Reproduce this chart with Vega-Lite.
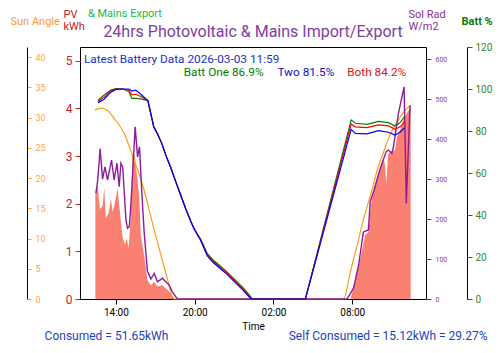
{
  "$schema": "https://vega.github.io/schema/vega-lite/v6.json",
  "width": 346,
  "height": 252,
  "autosize": "none",
  "padding": {"left": 80, "top": 47, "right": 74, "bottom": 54},
  "config": {
    "font": "Roboto",
    "view": {"stroke": "black", "strokeWidth": 1},
    "axis": {"grid": false}
  },
  "title": {
    "text": "24hrs Photovoltaic & Mains Import/Export",
    "anchor": "middle",
    "frame": "group",
    "fontSize": 16,
    "fontWeight": "normal",
    "color": "#7d3f9e",
    "offset": 0,
    "baseline": "alphabetic",
    "dy": 45
  },
  "datasets": {
    "pv": [
      {"t": "2026-03-02T12:26", "v": 2.25},
      {"t": "2026-03-02T12:37", "v": 2.35},
      {"t": "2026-03-02T12:47", "v": 1.89},
      {"t": "2026-03-02T12:59", "v": 1.95},
      {"t": "2026-03-02T13:07", "v": 2.33},
      {"t": "2026-03-02T13:14", "v": 1.70},
      {"t": "2026-03-02T13:27", "v": 1.80},
      {"t": "2026-03-02T13:37", "v": 2.11},
      {"t": "2026-03-02T13:45", "v": 1.83},
      {"t": "2026-03-02T13:57", "v": 2.05},
      {"t": "2026-03-02T14:08", "v": 2.33},
      {"t": "2026-03-02T14:15", "v": 1.97},
      {"t": "2026-03-02T14:31", "v": 1.28},
      {"t": "2026-03-02T14:42", "v": 1.14},
      {"t": "2026-03-02T14:49", "v": 1.28},
      {"t": "2026-03-02T14:58", "v": 1.07},
      {"t": "2026-03-02T15:08", "v": 1.70},
      {"t": "2026-03-02T15:16", "v": 3.05},
      {"t": "2026-03-02T15:27", "v": 3.0},
      {"t": "2026-03-02T15:36", "v": 2.6},
      {"t": "2026-03-02T15:46", "v": 2.2},
      {"t": "2026-03-02T15:54", "v": 1.34},
      {"t": "2026-03-02T16:09", "v": 0.92},
      {"t": "2026-03-02T16:24", "v": 0.40},
      {"t": "2026-03-02T16:40", "v": 0.29},
      {"t": "2026-03-02T16:55", "v": 0.36},
      {"t": "2026-03-02T17:10", "v": 0.26},
      {"t": "2026-03-02T17:33", "v": 0.29},
      {"t": "2026-03-02T17:56", "v": 0.19},
      {"t": "2026-03-02T18:11", "v": 0.12},
      {"t": "2026-03-02T18:21", "v": 0.05},
      {"t": "2026-03-02T18:29", "v": 0},
      {"t": "2026-03-03T07:51", "v": 0},
      {"t": "2026-03-03T08:14", "v": 0.36},
      {"t": "2026-03-03T08:37", "v": 0.85},
      {"t": "2026-03-03T08:59", "v": 1.34},
      {"t": "2026-03-03T09:14", "v": 1.41},
      {"t": "2026-03-03T09:25", "v": 1.97},
      {"t": "2026-03-03T09:40", "v": 2.35},
      {"t": "2026-03-03T10:08", "v": 2.75},
      {"t": "2026-03-03T10:23", "v": 2.96},
      {"t": "2026-03-03T10:30", "v": 2.8},
      {"t": "2026-03-03T10:36", "v": 2.4},
      {"t": "2026-03-03T10:42", "v": 2.9},
      {"t": "2026-03-03T10:45", "v": 3.06},
      {"t": "2026-03-03T11:01", "v": 3.10},
      {"t": "2026-03-03T11:16", "v": 3.13},
      {"t": "2026-03-03T11:24", "v": 3.40},
      {"t": "2026-03-03T11:39", "v": 3.55},
      {"t": "2026-03-03T11:54", "v": 3.78},
      {"t": "2026-03-03T12:01", "v": 3.83},
      {"t": "2026-03-03T12:17", "v": 3.95},
      {"t": "2026-03-03T12:27", "v": 4.05}
    ],
    "sun": [
      {"t": "2026-03-02T12:24", "v": 31.3},
      {"t": "2026-03-02T12:52", "v": 31.6},
      {"t": "2026-03-02T13:22", "v": 31.2},
      {"t": "2026-03-02T13:52", "v": 29.9},
      {"t": "2026-03-02T14:38", "v": 27.4},
      {"t": "2026-03-02T15:23", "v": 23.0},
      {"t": "2026-03-02T16:02", "v": 18.9},
      {"t": "2026-03-02T16:55", "v": 11.4},
      {"t": "2026-03-02T17:40", "v": 5.35},
      {"t": "2026-03-02T18:03", "v": 2.3},
      {"t": "2026-03-02T18:21", "v": 0},
      {"t": "2026-03-03T07:20", "v": 0},
      {"t": "2026-03-03T07:51", "v": 4.4},
      {"t": "2026-03-03T08:23", "v": 9},
      {"t": "2026-03-03T08:55", "v": 13.7},
      {"t": "2026-03-03T09:30", "v": 18.0},
      {"t": "2026-03-03T09:54", "v": 21.3},
      {"t": "2026-03-03T10:23", "v": 24.3},
      {"t": "2026-03-03T10:53", "v": 27.2},
      {"t": "2026-03-03T11:24", "v": 29.2},
      {"t": "2026-03-03T11:52", "v": 30.8},
      {"t": "2026-03-03T12:24", "v": 32}
    ],
    "sol": [
      {"t": "2026-03-02T12:29", "v": 265},
      {"t": "2026-03-02T12:37", "v": 298},
      {"t": "2026-03-02T12:48", "v": 377},
      {"t": "2026-03-02T12:59", "v": 300},
      {"t": "2026-03-02T13:10", "v": 331},
      {"t": "2026-03-02T13:22", "v": 298},
      {"t": "2026-03-02T13:40", "v": 348},
      {"t": "2026-03-02T13:52", "v": 298},
      {"t": "2026-03-02T14:05", "v": 340},
      {"t": "2026-03-02T14:15", "v": 281},
      {"t": "2026-03-02T14:23", "v": 340},
      {"t": "2026-03-02T14:31", "v": 331},
      {"t": "2026-03-02T14:46", "v": 198},
      {"t": "2026-03-02T14:53", "v": 177},
      {"t": "2026-03-02T15:01", "v": 181},
      {"t": "2026-03-02T15:08", "v": 231},
      {"t": "2026-03-02T15:28", "v": 431},
      {"t": "2026-03-02T15:39", "v": 356},
      {"t": "2026-03-02T15:48", "v": 381},
      {"t": "2026-03-02T15:57", "v": 281},
      {"t": "2026-03-02T16:09", "v": 168},
      {"t": "2026-03-02T16:24", "v": 70},
      {"t": "2026-03-02T16:40", "v": 50},
      {"t": "2026-03-02T16:55", "v": 64},
      {"t": "2026-03-02T17:10", "v": 43},
      {"t": "2026-03-02T17:33", "v": 52},
      {"t": "2026-03-02T17:48", "v": 43},
      {"t": "2026-03-02T18:03", "v": 35},
      {"t": "2026-03-02T18:18", "v": 18},
      {"t": "2026-03-02T18:33", "v": 6},
      {"t": "2026-03-02T18:43", "v": 0},
      {"t": "2026-03-03T07:36", "v": 0},
      {"t": "2026-03-03T08:06", "v": 27},
      {"t": "2026-03-03T08:29", "v": 85},
      {"t": "2026-03-03T08:51", "v": 168},
      {"t": "2026-03-03T09:14", "v": 173},
      {"t": "2026-03-03T09:22", "v": 244},
      {"t": "2026-03-03T09:40", "v": 273},
      {"t": "2026-03-03T10:08", "v": 327},
      {"t": "2026-03-03T10:35", "v": 369},
      {"t": "2026-03-03T10:45", "v": 373},
      {"t": "2026-03-03T11:01", "v": 365},
      {"t": "2026-03-03T11:08", "v": 381},
      {"t": "2026-03-03T11:31", "v": 465},
      {"t": "2026-03-03T11:57", "v": 531},
      {"t": "2026-03-03T12:07", "v": 240},
      {"t": "2026-03-03T12:24", "v": 486}
    ],
    "batt": [
      {"t": "2026-03-02T12:38", "one": 94.5, "two": 93.5, "both": 94},
      {"t": "2026-03-02T13:05", "one": 97, "two": 95, "both": 96},
      {"t": "2026-03-02T13:37", "one": 99.5, "two": 98.5, "both": 99},
      {"t": "2026-03-02T14:00", "one": 100.2, "two": 99.8, "both": 100},
      {"t": "2026-03-02T14:32", "one": 100, "two": 100, "both": 100},
      {"t": "2026-03-02T14:59", "one": 98.8, "two": 100, "both": 99.4},
      {"t": "2026-03-02T15:13", "one": 95.5, "two": 99, "both": 97.2},
      {"t": "2026-03-02T15:31", "one": 95.5, "two": 99.5, "both": 97.5},
      {"t": "2026-03-02T15:54", "one": 95.3, "two": 97.5, "both": 96.4},
      {"t": "2026-03-02T16:26", "one": 94.5, "two": 94.5, "both": 94.5},
      {"t": "2026-03-02T16:40", "one": 88, "two": 88, "both": 88},
      {"t": "2026-03-02T16:53", "one": 82, "two": 82, "both": 82},
      {"t": "2026-03-02T17:11", "one": 78.5, "two": 78.5, "both": 78.5},
      {"t": "2026-03-02T17:30", "one": 74, "two": 74, "both": 74},
      {"t": "2026-03-02T17:48", "one": 68.5, "two": 68.5, "both": 68.5},
      {"t": "2026-03-02T18:11", "one": 62.5, "two": 62.5, "both": 62.5},
      {"t": "2026-03-02T18:33", "one": 56, "two": 56, "both": 56},
      {"t": "2026-03-02T18:56", "one": 49.5, "two": 49.5, "both": 49.5},
      {"t": "2026-03-02T19:19", "one": 43, "two": 43, "both": 43},
      {"t": "2026-03-02T19:42", "one": 37, "two": 37, "both": 37},
      {"t": "2026-03-02T19:57", "one": 33.5, "two": 33.5, "both": 33.5},
      {"t": "2026-03-02T20:11", "one": 31.2, "two": 30.8, "both": 31},
      {"t": "2026-03-02T20:27", "one": 28.6, "two": 28.0, "both": 28.3},
      {"t": "2026-03-02T20:43", "one": 25, "two": 24, "both": 24.5},
      {"t": "2026-03-02T20:58", "one": 21.6, "two": 20.5, "both": 21},
      {"t": "2026-03-02T21:22", "one": 18.8, "two": 17.6, "both": 18.2},
      {"t": "2026-03-02T21:58", "one": 15.6, "two": 14.4, "both": 15},
      {"t": "2026-03-02T22:29", "one": 12.8, "two": 11.6, "both": 12.2},
      {"t": "2026-03-02T23:07", "one": 8.9, "two": 7.7, "both": 8.3},
      {"t": "2026-03-02T23:43", "one": 5.2, "two": 4.0, "both": 4.6},
      {"t": "2026-03-03T00:15", "one": 1.2, "two": 0.3, "both": 0.7},
      {"t": "2026-03-03T00:24", "one": 0, "two": 0, "both": 0},
      {"t": "2026-03-03T04:26", "one": 0, "two": 0, "both": 0},
      {"t": "2026-03-03T07:55", "one": 85.2, "two": 80.8, "both": 83.3},
      {"t": "2026-03-03T08:14", "one": 83.7, "two": 78.9, "both": 82},
      {"t": "2026-03-03T09:07", "one": 83.2, "two": 78.6, "both": 81.6},
      {"t": "2026-03-03T10:00", "one": 84.6, "two": 80.2, "both": 82.9},
      {"t": "2026-03-03T10:45", "one": 84, "two": 79.4, "both": 82.4},
      {"t": "2026-03-03T11:16", "one": 82.4, "two": 78.1, "both": 80.8},
      {"t": "2026-03-03T11:39", "one": 84, "two": 79.5, "both": 82},
      {"t": "2026-03-03T11:59", "one": 86.9, "two": 81.5, "both": 84.2}
    ],
    "one": [{}]
  },
  "layer": [
    {
      "layer": [
        {
          "data": {"name": "pv"},
          "mark": {"type": "area", "color": "#fa8072", "opacity": 1},
          "encoding": {
            "x": {
              "field": "t", "type": "temporal",
              "scale": {"domain": [{"year": 2026, "month": 3, "date": 2, "hours": 11, "minutes": 16}, {"year": 2026, "month": 3, "date": 3, "hours": 13, "minutes": 37}]},
              "axis": {
                "title": "Time",
                "format": "%H:%M",
                "values": [
                  {"year": 2026, "month": 3, "date": 2, "hours": 14},
                  {"year": 2026, "month": 3, "date": 2, "hours": 20},
                  {"year": 2026, "month": 3, "date": 3, "hours": 2},
                  {"year": 2026, "month": 3, "date": 3, "hours": 8}
                ],
                "domain": false,
                "tickColor": "black",
                "tickSize": 5,
                "labelColor": "black",
                "labelFontSize": 10,
                "labelPadding": 3,
                "titleColor": "black",
                "titleFontSize": 10,
                "titleFontWeight": "normal",
                "titlePadding": 4
              }
            },
            "y": {
              "field": "v", "type": "quantitative",
              "scale": {"domain": [0, 5.29], "nice": false},
              "axis": {
                "orient": "left",
                "values": [0, 1, 2, 3, 4, 5],
                "domain": false,
                "tickColor": "#cc2222",
                "tickSize": 5,
                "labelColor": "#cc2222",
                "labelFontSize": 12,
                "labelPadding": 3,
                "title": ["PV", "kWh"],
                "titleColor": "#c0202a",
                "titleFontSize": 11,
                "titleFontWeight": "normal",
                "titleAngle": 0,
                "titleAlign": "left",
                "titleBaseline": "top",
                "titleX": -17,
                "titleY": -39,
                "titleLineHeight": 12
              }
            }
          }
        },
        {
          "data": {"name": "one"},
          "mark": {"type": "text", "align": "left", "baseline": "middle", "fontSize": 11.8, "color": "#1432c8"},
          "encoding": {
            "x": {"datum": {"year": 2026, "month": 3, "date": 2, "hours": 11, "minutes": 34}, "type": "temporal", "scale": {"domain": [{"year": 2026, "month": 3, "date": 2, "hours": 11, "minutes": 16}, {"year": 2026, "month": 3, "date": 3, "hours": 13, "minutes": 37}]}},
            "y": {"datum": 5.035, "type": "quantitative", "scale": {"domain": [0, 5.29], "nice": false}},
            "text": {"value": "Latest Battery Data 2026-03-03 11:59"}
          }
        },
        {
          "data": {"name": "one"},
          "mark": {"type": "text", "align": "left", "baseline": "middle", "fontSize": 11.8, "color": "#008000"},
          "encoding": {
            "x": {"datum": {"year": 2026, "month": 3, "date": 2, "hours": 19, "minutes": 10}, "type": "temporal", "scale": {"domain": [{"year": 2026, "month": 3, "date": 2, "hours": 11, "minutes": 16}, {"year": 2026, "month": 3, "date": 3, "hours": 13, "minutes": 37}]}},
            "y": {"datum": 4.755, "type": "quantitative", "scale": {"domain": [0, 5.29], "nice": false}},
            "text": {"value": "Batt One 86.9%"}
          }
        },
        {
          "data": {"name": "one"},
          "mark": {"type": "text", "align": "left", "baseline": "middle", "fontSize": 11.8, "color": "#1010c0"},
          "encoding": {
            "x": {"datum": {"year": 2026, "month": 3, "date": 3, "hours": 2, "minutes": 18}, "type": "temporal", "scale": {"domain": [{"year": 2026, "month": 3, "date": 2, "hours": 11, "minutes": 16}, {"year": 2026, "month": 3, "date": 3, "hours": 13, "minutes": 37}]}},
            "y": {"datum": 4.755, "type": "quantitative", "scale": {"domain": [0, 5.29], "nice": false}},
            "text": {"value": "Two 81.5%"}
          }
        },
        {
          "data": {"name": "one"},
          "mark": {"type": "text", "align": "left", "baseline": "middle", "fontSize": 11.8, "color": "#e81010"},
          "encoding": {
            "x": {"datum": {"year": 2026, "month": 3, "date": 3, "hours": 7, "minutes": 37}, "type": "temporal", "scale": {"domain": [{"year": 2026, "month": 3, "date": 2, "hours": 11, "minutes": 16}, {"year": 2026, "month": 3, "date": 3, "hours": 13, "minutes": 37}]}},
            "y": {"datum": 4.755, "type": "quantitative", "scale": {"domain": [0, 5.29], "nice": false}},
            "text": {"value": "Both 84.2%"}
          }
        },
        {
          "data": {"name": "one"},
          "mark": {"type": "text", "align": "left", "baseline": "middle", "fontSize": 11, "color": "#22bb44"},
          "encoding": {
            "x": {"datum": {"year": 2026, "month": 3, "date": 2, "hours": 11, "minutes": 52}, "type": "temporal", "scale": {"domain": [{"year": 2026, "month": 3, "date": 2, "hours": 11, "minutes": 16}, {"year": 2026, "month": 3, "date": 3, "hours": 13, "minutes": 37}]}},
            "y": {"datum": 5.99, "type": "quantitative", "scale": {"domain": [0, 5.29], "nice": false}},
            "text": {"value": "& Mains Export"}
          }
        },
        {
          "data": {"name": "one"},
          "mark": {"type": "text", "align": "center", "baseline": "middle", "fontSize": 12, "color": "#1a3fbf"},
          "encoding": {
            "x": {"datum": {"year": 2026, "month": 3, "date": 2, "hours": 13, "minutes": 17}, "type": "temporal", "scale": {"domain": [{"year": 2026, "month": 3, "date": 2, "hours": 11, "minutes": 16}, {"year": 2026, "month": 3, "date": 3, "hours": 13, "minutes": 37}]}},
            "y": {"datum": -0.78, "type": "quantitative", "scale": {"domain": [0, 5.29], "nice": false}},
            "text": {"value": "Consumed = 51.65kWh"}
          }
        },
        {
          "data": {"name": "one"},
          "mark": {"type": "text", "align": "center", "baseline": "middle", "fontSize": 12, "color": "#1a3fbf"},
          "encoding": {
            "x": {"datum": {"year": 2026, "month": 3, "date": 3, "hours": 10, "minutes": 44}, "type": "temporal", "scale": {"domain": [{"year": 2026, "month": 3, "date": 2, "hours": 11, "minutes": 16}, {"year": 2026, "month": 3, "date": 3, "hours": 13, "minutes": 37}]}},
            "y": {"datum": -0.78, "type": "quantitative", "scale": {"domain": [0, 5.29], "nice": false}},
            "text": {"value": "Self Consumed = 15.12kWh  = 29.27%"}
          }
        }
      ]
    },
    {
      "data": {"name": "sun"},
      "mark": {"type": "line", "color": "#ff9a1a", "strokeWidth": 1.2, "interpolate": "monotone"},
      "encoding": {
        "x": {"field": "t", "type": "temporal", "scale": {"domain": [{"year": 2026, "month": 3, "date": 2, "hours": 11, "minutes": 16}, {"year": 2026, "month": 3, "date": 3, "hours": 13, "minutes": 37}]}},
        "y": {
          "field": "v", "type": "quantitative",
          "scale": {"domain": [0, 41.7], "nice": false},
          "axis": {
            "orient": "right",
            "offset": -399,
            "values": [0, 5, 10, 15, 20, 25, 30, 35, 40],
            "domain": true,
            "domainColor": "black",
            "tickColor": "#ff9a1a",
            "tickSize": 4,
            "labelColor": "#ffa64d",
            "labelFontSize": 9,
            "labelPadding": 4,
            "title": "Sun Angle",
            "titleColor": "#ff9a2e",
            "titleFontSize": 11,
            "titleFontWeight": "normal",
            "titleAngle": 0,
            "titleAlign": "left",
            "titleBaseline": "middle",
            "titleX": -17,
            "titleY": -26
          }
        }
      }
    },
    {
      "data": {"name": "sol"},
      "mark": {"type": "line", "color": "#8e1b9c", "strokeWidth": 1.4},
      "encoding": {
        "x": {"field": "t", "type": "temporal", "scale": {"domain": [{"year": 2026, "month": 3, "date": 2, "hours": 11, "minutes": 16}, {"year": 2026, "month": 3, "date": 3, "hours": 13, "minutes": 37}]}},
        "y": {
          "field": "v", "type": "quantitative",
          "scale": {"domain": [0, 631], "nice": false},
          "axis": {
            "orient": "right",
            "offset": 0,
            "values": [0, 100, 200, 300, 400, 500, 600],
            "domain": false,
            "tickColor": "#8e1b9c",
            "tickSize": 5,
            "labelColor": "#8e3a9e",
            "labelFontSize": 7,
            "labelPadding": 4,
            "title": ["Sol Rad", "W/m2"],
            "titleColor": "#8a2f96",
            "titleFontSize": 11,
            "titleFontWeight": "normal",
            "titleAngle": 0,
            "titleAlign": "left",
            "titleBaseline": "top",
            "titleX": -18,
            "titleY": -39,
            "titleLineHeight": 12
          }
        }
      }
    },
    {
      "data": {"name": "batt"},
      "encoding": {
        "x": {"field": "t", "type": "temporal", "scale": {"domain": [{"year": 2026, "month": 3, "date": 2, "hours": 11, "minutes": 16}, {"year": 2026, "month": 3, "date": 3, "hours": 13, "minutes": 37}]}}
      },
      "layer": [
        {
          "mark": {"type": "line", "color": "#008000", "strokeWidth": 1.2},
          "encoding": {
            "y": {
              "field": "one", "type": "quantitative",
              "scale": {"domain": [0, 120], "nice": false},
              "axis": {
                "orient": "right",
                "offset": 41,
                "values": [0, 20, 40, 60, 80, 100, 120],
                "domain": true,
                "domainColor": "black",
                "tickColor": "#108010",
                "tickSize": 5,
                "labelColor": "#2e8b2e",
                "labelFontSize": 10,
                "labelPadding": 3,
                "title": "Batt %",
                "titleColor": "#0a7a0a",
                "titleFontSize": 11,
                "titleFontWeight": "bold",
                "titleAngle": 0,
                "titleAlign": "left",
                "titleBaseline": "middle",
                "titleX": -6,
                "titleY": -26
              }
            }
          }
        },
        {
          "mark": {"type": "line", "color": "#ff0000", "strokeWidth": 1.2},
          "encoding": {"y": {"field": "both", "type": "quantitative", "scale": {"domain": [0, 120], "nice": false}}}
        },
        {
          "mark": {"type": "line", "color": "#0000ff", "strokeWidth": 1.2},
          "encoding": {"y": {"field": "two", "type": "quantitative", "scale": {"domain": [0, 120], "nice": false}}}
        }
      ]
    }
  ],
  "resolve": {"scale": {"y": "independent"}}
}
